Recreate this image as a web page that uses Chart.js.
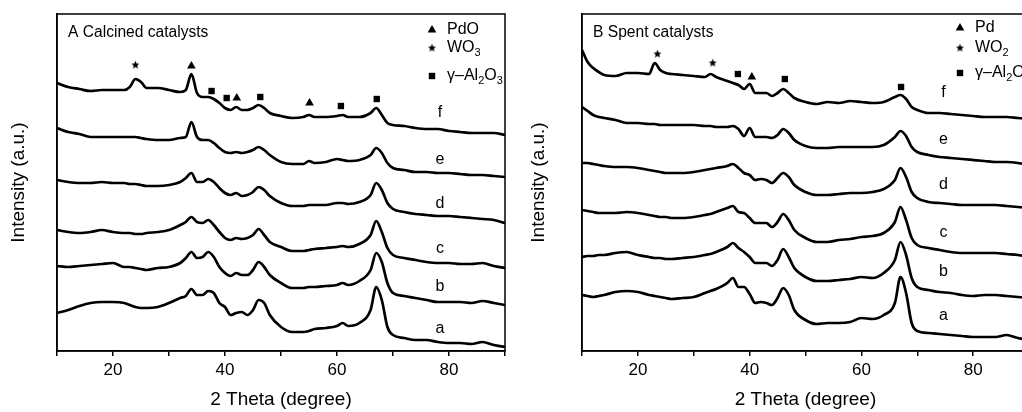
<!DOCTYPE html>
<html>
<head>
  <title>XRD patterns of calcined and spent catalysts</title>
  <style>
    body {
      margin: 0;
      background: #fff;
      overflow: hidden;
    }

    #wrap {
      position: relative;
      width: 1022px;
      height: 412px;
      overflow: hidden;
    }

    .panel {
      position: absolute;
      top: 0;
      height: 412px;
    }

    #panelA { left: 0; width: 520px; }
    #panelB { left: 520px; width: 530px; }
  </style>
</head>
<body>
  <div id="wrap">
    <div class="panel" id="panelA"><canvas id="chartA"></canvas></div>
    <div class="panel" id="panelB"><canvas id="chartB"></canvas></div>
  </div>

  <script src="https://cdn.jsdelivr.net/npm/chart.js"></script>
  <script>
    // 2 theta grids (degree) the curves were read at
    const thetaCalcined = [10,12,14,16,18,20,22,23,24,25,26,28,30,32,33,34,35,36,37,38,39,40,41,42,43,44,45,46,47,48,50,52,54,55,56,58,60,61,62,64,66,67,68,69,70,72,74,76,78,80,82,84,86,88,90];
    const thetaSpent = [10,11,12,13,14,16,18,20,22,23,24,25,26,28,30,32,33,34,36,37,38,39,40,41,42,43,44,45,46,47,48,50,52,54,56,58,60,62,64,66,67,68,69,70,72,74,76,78,80,82,84,86,88,90];

    // panel A, calcined catalysts (stacked intensity, a.u.)
    const calcinedA = [38,41,45,48,49,49,48,46,44,43,43,44,48,53,55,62,56,56,60,58,48,44,36,38,39,36,41,51,48,36,24,19,19,20,22,23,25,28,25,28,41,64,51,24,16,13,11,11,9,8,8,7,9,6,4];
    const calcinedB = [85,84,85,86,87,88,84,84,83,82,81,83,84,88,93,99,93,94,99,94,84,78,75,78,76,76,81,89,84,76,68,63,63,64,64,65,66,68,66,70,81,98,89,68,58,55,53,51,49,49,49,48,50,48,46];
    const calcinedC = [121,119,118,119,121,119,118,118,117,117,118,119,121,126,129,134,129,128,131,126,119,113,111,113,112,113,116,122,116,109,104,100,100,101,102,103,104,105,104,107,116,130,119,103,96,93,91,89,88,88,87,87,88,85,83];
    const calcinedD = [171,169,168,168,169,168,168,167,167,166,165,165,166,169,173,178,169,169,172,169,163,158,156,158,155,156,159,164,161,155,148,145,145,146,146,146,148,148,147,149,156,168,161,148,142,139,137,136,135,135,134,133,132,131,128];
    const calcinedE = [223,219,217,214,214,214,214,214,214,213,212,211,211,213,214,229,214,211,211,208,203,199,198,199,198,199,201,204,201,196,189,187,187,190,188,189,192,191,190,191,196,203,198,188,183,181,179,179,178,178,177,176,176,175,174];
    const calcinedF = [268,264,262,260,261,261,261,264,272,269,263,263,261,259,261,277,258,254,254,252,248,243,241,244,241,241,243,246,243,238,235,233,234,236,234,234,235,236,234,234,238,243,236,228,226,225,223,222,222,220,219,218,218,218,216];

    // panel B, spent catalysts
    const spentA = [56,55,54,55,56,59,60,59,56,55,54,53,52,53,54,58,60,62,68,73,64,64,57,48,49,48,46,53,63,56,41,31,27,28,28,29,33,32,36,48,74,58,28,20,18,17,16,15,14,14,14,16,13,11];
    const spentB = [94,95,95,96,96,98,99,96,94,93,93,92,92,93,94,96,97,99,104,108,103,99,94,88,88,88,85,91,102,94,83,74,70,70,71,72,74,73,78,91,109,96,73,64,61,59,58,56,55,56,56,55,54,53];
    const spentC = [141,140,139,138,138,138,139,138,136,135,134,134,133,133,134,136,137,139,143,145,139,138,133,128,128,128,124,129,137,131,121,113,109,109,111,112,114,115,118,129,144,131,113,106,103,101,99,98,98,98,98,97,96,94];
    const spentD = [188,188,187,186,185,184,184,183,181,180,179,178,178,178,179,181,182,183,185,187,183,178,176,171,172,171,168,173,178,174,166,159,156,156,157,158,158,159,162,171,183,174,159,153,149,148,147,146,146,146,146,145,144,143];
    const spentE = [244,240,236,234,233,231,228,228,227,227,226,226,226,226,226,225,225,224,224,225,222,215,223,214,214,214,213,216,222,218,211,205,203,203,204,204,204,204,206,214,220,215,204,199,196,194,193,192,191,190,189,189,188,186];
    const spentF = [301,289,283,279,276,275,278,278,277,288,281,278,277,276,275,274,277,274,270,268,266,262,267,258,258,258,255,258,262,258,253,249,247,249,248,250,249,248,249,254,256,252,244,241,238,238,237,236,235,234,234,234,233,232];

    // sample letters beside each curve
    const sampleNames = ['a', 'b', 'c', 'd', 'e', 'f'];
    const calcinedNameX = 78.4;
    const calcinedNameY = [22, 64, 102, 147, 191, 238];
    const spentNameX = 74.7;
    const spentNameY = [35, 79, 118, 166, 211, 258];

    // phase markers placed over the peaks
    const calcinedPdOX = [34.0, 42.1, 55.1];
    const calcinedPdOY = [285, 253, 248];
    const calcinedWO3X = [24.0];
    const calcinedWO3Y = [286];
    const calcinedAlX = [37.6, 40.3, 46.3, 60.7, 67.1];
    const calcinedAlY = [260, 253, 254, 245, 252];

    const spentPdX = [40.4];
    const spentPdY = [274];
    const spentWO2X = [23.5, 33.4];
    const spentWO2Y = [297, 288];
    const spentAlX = [37.9, 46.3, 67.1];
    const spentAlY = [277, 272, 264];

    const FONT = '"Liberation Sans", Arial, sans-serif';
    Chart.defaults.font.family = FONT;
    Chart.defaults.color = '#000';

    function makeStar(r) {
      const c = document.createElement('canvas');
      const s = Math.ceil(r * 2 + 2);
      c.width = s;
      c.height = s;
      const g = c.getContext('2d');
      g.beginPath();
      for (let i = 0; i < 10; i++) {
        const rr = i % 2 ? r * 0.45 : r;
        const a = -Math.PI / 2 + i * Math.PI / 5;
        g.lineTo(s / 2 + rr * Math.cos(a), s / 2 + rr * Math.sin(a));
      }
      g.closePath();
      g.fillStyle = '#000';
      g.fill();
      return c;
    }
    const starImg = makeStar(4.2);

    function drawMarker(ctx, kind, x, y) {
      ctx.fillStyle = '#000';
      if (kind === 'star') {
        ctx.drawImage(starImg, x - starImg.width / 2, y - starImg.height / 2);
        return;
      }
      ctx.beginPath();
      if (kind === 'triangle') {
        const r = 5;
        ctx.moveTo(x, y - r);
        ctx.lineTo(x + r * 0.866, y + r / 2);
        ctx.lineTo(x - r * 0.866, y + r / 2);
        ctx.closePath();
      } else {
        ctx.rect(x - 3.2, y - 3.2, 6.4, 6.4);
      }
      ctx.fill();
    }

    // text with subscript parts: [[text, isSub], ...]
    function drawRich(ctx, parts, x, y) {
      parts.forEach(([t, sub]) => {
        ctx.font = (sub ? '11px ' : '16px ') + FONT;
        ctx.fillText(t, x, sub ? y + 5 : y);
        x += ctx.measureText(t).width;
      });
    }

    const panelText = {
      id: 'panelText',
      afterDatasetsDraw(chart, args, opts) {
        const ctx = chart.ctx;
        const { left, top, right, bottom } = chart.chartArea;
        const xs = chart.scales.x;
        const ys = chart.scales.y;
        ctx.save();
        ctx.strokeStyle = '#000';
        ctx.lineWidth = 1.5;
        ctx.strokeRect(left, top, right - left, bottom - top);

        ctx.fillStyle = '#000';
        ctx.textBaseline = 'middle';
        ctx.textAlign = 'left';
        ctx.font = '15.6px ' + FONT;
        ctx.fillText(opts.heading, opts.headingX, opts.headingY);

        ctx.textAlign = 'center';
        ctx.font = '16px ' + FONT;
        opts.nameY.forEach((v, i) => {
          ctx.fillText(sampleNames[i], xs.getPixelForValue(opts.nameX), ys.getPixelForValue(v));
        });

        ctx.textAlign = 'left';
        opts.legend.forEach(item => {
          drawMarker(ctx, item.marker, opts.legendX, item.y);
          drawRich(ctx, item.parts, opts.legendX + 15, item.y);
        });
        ctx.restore();
      }
    };

    function zip(xs, ys) {
      return xs.map((x, i) => ({ x: x, y: ys[i] }));
    }

    function curve(xs, ys) {
      return {
        type: 'line',
        data: zip(xs, ys),
        borderColor: '#000',
        borderWidth: 2.7,
        pointRadius: 0,
        fill: false,
        cubicInterpolationMode: 'monotone'
      };
    }

    function markers(xs, ys, style, radius) {
      return {
        type: 'scatter',
        data: zip(xs, ys),
        showLine: false,
        pointStyle: style,
        pointRadius: radius,
        backgroundColor: '#000',
        borderColor: '#000',
        borderWidth: 0
      };
    }

    function makeChart(id, yWidth, padRight, datasets, text) {
      return new Chart(document.getElementById(id), {
        type: 'line',
        data: { datasets: datasets },
        plugins: [panelText],
        options: {
          responsive: true,
          maintainAspectRatio: false,
          animation: false,
          events: [],
          layout: { padding: { top: 14, right: padRight, left: 0, bottom: 0 } },
          plugins: {
            legend: { display: false },
            tooltip: { enabled: false },
            panelText: text
          },
          scales: {
            x: {
              type: 'linear',
              min: 10,
              max: 90,
              border: { display: true, color: '#000', width: 1.5 },
              grid: { display: true, drawOnChartArea: false, drawTicks: true, tickLength: 5, color: '#000', lineWidth: 1.5 },
              ticks: {
                stepSize: 10,
                autoSkip: false,
                maxRotation: 0,
                padding: 4,
                font: { size: 17 },
                callback: v => (v % 20 === 0 ? v : '')
              },
              title: { display: true, text: '2 Theta (degree)', font: { size: 19 }, padding: { top: 0, bottom: 1 } },
              afterFit: s => { s.height = 61; }
            },
            y: {
              min: 0,
              max: 337,
              border: { display: true, color: '#000', width: 1.5 },
              grid: { display: false },
              ticks: { display: false },
              title: { display: true, text: 'Intensity (a.u.)', font: { size: 19 }, padding: { top: 7 } },
              afterFit: s => { s.width = yWidth; }
            }
          }
        }
      });
    }

    makeChart('chartA', 57, 15, [
      curve(thetaCalcined, calcinedA),
      curve(thetaCalcined, calcinedB),
      curve(thetaCalcined, calcinedC),
      curve(thetaCalcined, calcinedD),
      curve(thetaCalcined, calcinedE),
      curve(thetaCalcined, calcinedF),
      markers(calcinedPdOX, calcinedPdOY, 'triangle', 5),
      markers(calcinedWO3X, calcinedWO3Y, starImg, 4),
      markers(calcinedAlX, calcinedAlY, 'rect', 4.5)
    ], {
      heading: 'A Calcined catalysts',
      headingX: 68,
      headingY: 33,
      nameX: calcinedNameX,
      nameY: calcinedNameY,
      legendX: 432,
      legend: [
        { marker: 'triangle', y: 30, parts: [['PdO', false]] },
        { marker: 'star', y: 48, parts: [['WO', false], ['3', true]] },
        { marker: 'rect', y: 76, parts: [['\u03b3\u2013Al', false], ['2', true], ['O', false], ['3', true]] }
      ]
    });

    makeChart('chartB', 62, 21, [
      curve(thetaSpent, spentA),
      curve(thetaSpent, spentB),
      curve(thetaSpent, spentC),
      curve(thetaSpent, spentD),
      curve(thetaSpent, spentE),
      curve(thetaSpent, spentF),
      markers(spentPdX, spentPdY, 'triangle', 5),
      markers(spentWO2X, spentWO2Y, starImg, 4),
      markers(spentAlX, spentAlY, 'rect', 4.5)
    ], {
      heading: 'B Spent catalysts',
      headingX: 73,
      headingY: 33,
      nameX: spentNameX,
      nameY: spentNameY,
      legendX: 440,
      legend: [
        { marker: 'triangle', y: 28, parts: [['Pd', false]] },
        { marker: 'star', y: 48, parts: [['WO', false], ['2', true]] },
        { marker: 'rect', y: 73, parts: [['\u03b3\u2013Al', false], ['2', true], ['O', false], ['3', true]] }
      ]
    });
  </script>
</body>
</html>
